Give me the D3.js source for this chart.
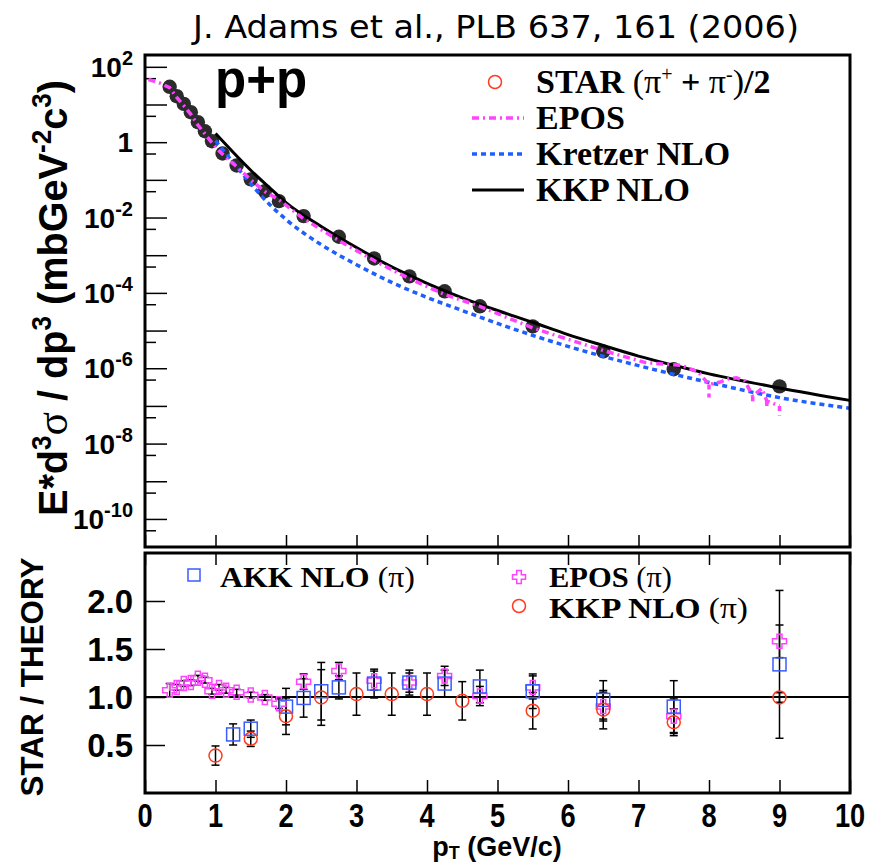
<!DOCTYPE html>
<html>
<head>
<meta charset="utf-8">
<script src="https://cdnjs.cloudflare.com/ajax/libs/d3/7.8.5/d3.min.js"></script>
<style>
  body { margin: 0; background: #fff; }
  svg { display: block; }
  .sans { font-family: "Liberation Sans", Arial, Helvetica, sans-serif; font-weight: bold; }
  .serif { font-family: "Liberation Serif", "Times New Roman", serif; font-weight: bold; }
</style>
</head>
<body>
<div id="chart"></div>
<script>
// STAR (pi+ + pi-)/2 invariant yield, p+p
const ptStar = [0.35, 0.45, 0.55, 0.65, 0.75, 0.85, 0.95, 1.1, 1.3, 1.5, 1.7, 1.9, 2.25, 2.75, 3.25, 3.75, 4.25, 4.75, 5.5, 6.5, 7.5, 9.0];
const yieldStar = [29.5, 16.6, 10.4, 6.25, 3.39, 1.95, 1.06, 0.50, 0.241, 0.103, 0.050, 0.0272, 0.0109, 3.09e-3, 8.2e-4, 2.75e-4, 1.1e-4, 4.4e-5, 1.29e-5, 2.8e-6, 9.4e-7, 3.3e-7];

// theory curves
const ptKKP = [1.0, 1.25, 1.5, 1.75, 2.0, 2.5, 3.0, 3.5, 4.0, 4.5, 5.0, 5.5, 6.0, 6.5, 7.0, 7.5, 8.0, 9.0, 10.0];
const yieldKKP = [1.7, 0.54, 0.18, 0.066, 0.025, 5.8e-3, 1.6e-3, 4.9e-4, 1.8e-4, 7.4e-5, 3.4e-5, 1.66e-5, 7.8e-6, 4.0e-6, 2.1e-6, 1.2e-6, 7.1e-7, 3.0e-7, 1.4e-7];

const ptKretzer = [1.0, 1.25, 1.5, 1.75, 2.0, 2.5, 3.0, 3.5, 4.0, 4.5, 5.0, 6.0, 7.0, 8.0, 9.0, 10.0];
const yieldKretzer = [1.1, 0.29, 0.079, 0.024, 8.9e-3, 1.9e-3, 5.6e-4, 1.9e-4, 7.6e-5, 3.4e-5, 1.55e-5, 3.8e-6, 1.17e-6, 4.2e-7, 1.66e-7, 8.7e-8];

const ptEpos = [0.05, 0.2, 0.35, 0.45, 0.55, 0.65, 0.75, 0.85, 0.95, 1.05, 1.15, 1.3, 1.5, 1.7, 1.9, 2.25, 2.75, 3.25, 3.75, 4.25, 4.75, 5.5, 6.5, 7.1, 7.6, 7.85, 8.0, 8.16, 8.27, 8.39, 8.51, 8.62, 8.75, 8.82, 9.0];
const yieldEpos = [46, 38, 27.9, 15.5, 9.3, 5.5, 2.85, 1.66, 0.97, 0.59, 0.39, 0.224, 0.10, 0.049, 0.0295, 9.3e-3, 2.45e-3, 7.2e-4, 2.4e-4, 9.1e-5, 4.4e-5, 1.17e-5, 2.95e-6, 1.41e-6, 1.2e-6, 7.9e-7, 3.7e-7, 4.3e-7, 5.2e-7, 5.6e-7, 4.6e-7, 1.8e-7, 2.9e-7, 1.35e-7, 1.0e-7];
// EPOS statistical error bars (lower end) at high pT
const ptEposBar = [8.0, 8.62, 8.82, 9.0];
const lowEposBar = [1.66e-7, 1.1e-7, 9.0e-8, 5.6e-8];

// STAR / THEORY ratios
const ptAKK = [1.25, 1.5, 2.0, 2.25, 2.5, 2.75, 3.25, 3.75, 4.25, 4.75, 5.5, 6.5, 7.5, 9.0];
const ratioAKK = [0.61, 0.67, 0.90, 0.99, 1.06, 1.10, 1.14, 1.15, 1.14, 1.11, 1.06, 0.97, 0.90, 1.34];
const errAKK = [0.11, 0.09, 0.19, 0.20, 0.30, 0.12, 0.15, 0.13, 0.14, 0.17, 0.18, 0.20, 0.27, 0.77];

const ptEposR = [0.35, 0.45, 0.55, 0.65, 0.75, 0.85, 0.95, 1.05, 1.15, 1.3, 1.5, 1.7, 1.9, 2.25, 2.75, 3.25, 3.75, 4.25, 4.75, 5.5, 6.5, 7.5, 9.0];
const ratioEpos = [1.07, 1.10, 1.14, 1.15, 1.195, 1.175, 1.06, 1.10, 1.07, 1.05, 1.02, 0.995, 0.93, 1.16, 1.27, 1.17, 1.15, 1.22, 1.01, 1.10, 0.90, 0.80, 1.58];
const errEposR = [0.07, 0.03, 0.03, 0.03, 0.03, 0.03, 0.03, 0.03, 0.03, 0.03, 0.03, 0.03, 0.05, 0.08, 0.09, 0.10, 0.10, 0.10, 0.10, 0.12, 0.15, 0.18, 0.17];

const ptKKPR = [1.0, 1.5, 2.0, 2.5, 3.0, 3.5, 4.0, 4.5, 5.5, 6.5, 7.5, 9.0];
const ratioKKP = [0.39, 0.565, 0.80, 0.995, 1.03, 1.03, 1.03, 0.96, 0.857, 0.868, 0.737, 0.995];
const errKKP = [0.10, 0.08, 0.19, 0.29, 0.22, 0.22, 0.22, 0.20, 0.19, 0.20, 0.14, 0.05];

// ticks
const xTicks = d3.range(0, 11);
const yTopMajor = d3.range(-10, 3).map(k => Math.pow(10, k));
const yTopMinor = d3.range(-11, 2).map(k => 5 * Math.pow(10, k));
const yTopLabels = [2, 0, -2, -4, -6, -8, -10];
const yLowTicks = [0.5, 1.0, 1.5, 2.0];

// Configuration
const config = {
    width: 875,
    height: 863,
    left: 145,
    right: 850,
    top: { y0: 55, y1: 547 },
    low: { y0: 553, y1: 793 },
    colors: {
        star: "#2b2b2b",
        epos: "#ff44ff",
        kretzer: "#1f5fff",
        kkp: "#000000",
        red: "#ff3b1f",
        blue: "#3a5cff"
    }
};

const svg = d3.select("#chart").append("svg")
    .attr("width", config.width)
    .attr("height", config.height);

const x = d3.scaleLinear().domain([0, 10]).range([config.left, config.right]);
const yTop = d3.scaleLog().domain([1.8e-11, 2.06e2]).range([config.top.y1, config.top.y0]);
const yLow = d3.scaleLinear().domain([0, 2.5]).range([config.low.y1, config.low.y0]);

const defs = svg.append("defs");
defs.append("clipPath").attr("id", "clipTop").append("rect")
    .attr("x", config.left).attr("y", config.top.y0)
    .attr("width", config.right - config.left).attr("height", config.top.y1 - config.top.y0);

// Title
svg.append("text")
    .attr("x", 496).attr("y", 38)
    .attr("text-anchor", "middle")
    .attr("textLength", 606)
    .attr("lengthAdjust", "spacingAndGlyphs")
    .style("font-family", "'DejaVu Sans', Verdana, sans-serif")
    .style("font-size", "32px")
    .text("J. Adams et al., PLB 637, 161 (2006)");

// ---------- top panel ----------
const gTop = svg.append("g");

// axis ticks
gTop.append("g")
    .attr("transform", `translate(${config.left},0)`)
    .call(d3.axisLeft(yTop).tickValues(yTopMajor).tickSize(-22).tickFormat(""))
    .call(g => g.select(".domain").remove())
    .call(g => g.selectAll("line").attr("stroke-width", 1.5));
gTop.append("g")
    .attr("transform", `translate(${config.left},0)`)
    .call(d3.axisLeft(yTop).tickValues(yTopMinor).tickSize(-11).tickFormat(""))
    .call(g => g.select(".domain").remove())
    .call(g => g.selectAll("line").attr("stroke-width", 1.5));
gTop.append("g")
    .attr("transform", `translate(0,${config.top.y1})`)
    .call(d3.axisBottom(x).tickValues(xTicks).tickSize(-12).tickFormat(""))
    .call(g => g.select(".domain").remove())
    .call(g => g.selectAll("line").attr("stroke-width", 1.5));

// y labels (10^n)
yTopLabels.forEach(k => {
    const t = gTop.append("text")
        .attr("class", "sans")
        .attr("x", 133)
        .attr("y", yTop(Math.pow(10, k)) + 10)
        .attr("text-anchor", "end")
        .style("font-size", "28px");
    if (k === 0) {
        t.text("1");
    } else {
        t.append("tspan").text("10");
        t.append("tspan").attr("dy", -12).style("font-size", "20px").text(String(k));
    }
});

// STAR points
const plotTop = gTop.append("g").attr("clip-path", "url(#clipTop)");
plotTop.selectAll(".star")
    .data(ptStar.map((p, i) => ({ p, v: yieldStar[i] })))
    .enter().append("circle")
    .attr("cx", d => x(d.p))
    .attr("cy", d => yTop(d.v))
    .attr("r", 7.2)
    .attr("fill", config.colors.star);

const lineTop = d3.line()
    .x(d => x(d.p))
    .y(d => yTop(d.v))
    .curve(d3.curveMonotoneX);

plotTop.append("path")
    .datum(ptKretzer.map((p, i) => ({ p, v: yieldKretzer[i] })))
    .attr("d", lineTop)
    .attr("fill", "none")
    .attr("stroke", config.colors.kretzer)
    .attr("stroke-width", 3.5)
    .attr("stroke-dasharray", "5,4");

plotTop.append("path")
    .datum(ptKKP.map((p, i) => ({ p, v: yieldKKP[i] })))
    .attr("d", lineTop)
    .attr("fill", "none")
    .attr("stroke", config.colors.kkp)
    .attr("stroke-width", 3);

plotTop.append("path")
    .datum(ptEpos.map((p, i) => ({ p, v: yieldEpos[i] })))
    .attr("d", d3.line().x(d => x(d.p)).y(d => yTop(d.v)))
    .attr("fill", "none")
    .attr("stroke", config.colors.epos)
    .attr("stroke-width", 3.5)
    .attr("stroke-dasharray", "7,4,2,4");

plotTop.selectAll(".eposbar")
    .data(ptEposBar.map((p, i) => ({ p, lo: lowEposBar[i], hi: yieldEpos[ptEpos.indexOf(p)] })))
    .enter().append("line")
    .attr("x1", d => x(d.p)).attr("x2", d => x(d.p))
    .attr("y1", d => yTop(d.hi)).attr("y2", d => yTop(d.lo))
    .attr("stroke", config.colors.epos)
    .attr("stroke-width", 3.5)
    .attr("stroke-dasharray", "5,4");

// frame
gTop.append("rect")
    .attr("x", config.left).attr("y", config.top.y0)
    .attr("width", config.right - config.left).attr("height", config.top.y1 - config.top.y0)
    .attr("fill", "none").attr("stroke", "#000").attr("stroke-width", 3);

// p+p
gTop.append("text")
    .attr("class", "sans")
    .attr("x", 215).attr("y", 97)
    .style("font-size", "51px")
    .text("p+p");

// legend (top)
const legTop = gTop.append("g").attr("class", "serif").style("font-size", "34px");
const legRows = [93, 129, 165, 201];
legTop.append("circle").attr("cx", 495).attr("cy", legRows[0] - 11).attr("r", 6.5)
    .attr("fill", "none").attr("stroke", config.colors.red).attr("stroke-width", 1.5);
legTop.append("line").attr("x1", 472).attr("x2", 524).attr("y1", legRows[1] - 11).attr("y2", legRows[1] - 11)
    .attr("stroke", config.colors.epos).attr("stroke-width", 3.5).attr("stroke-dasharray", "7,4,2,4");
legTop.append("line").attr("x1", 472).attr("x2", 524).attr("y1", legRows[2] - 11).attr("y2", legRows[2] - 11)
    .attr("stroke", config.colors.kretzer).attr("stroke-width", 3.5).attr("stroke-dasharray", "5,4");
legTop.append("line").attr("x1", 472).attr("x2", 524).attr("y1", legRows[3] - 11).attr("y2", legRows[3] - 11)
    .attr("stroke", "#000").attr("stroke-width", 3);

const starLabel = legTop.append("text").attr("x", 536).attr("y", legRows[0]);
starLabel.append("tspan").text("STAR ");
starLabel.append("tspan").style("font-weight", "normal").text("(π");
starLabel.append("tspan").attr("dy", -12).style("font-size", "20px").style("font-weight", "normal").text("+");
starLabel.append("tspan").attr("dy", 12).text(" + ");
starLabel.append("tspan").style("font-weight", "normal").text("π");
starLabel.append("tspan").attr("dy", -12).style("font-size", "20px").style("font-weight", "normal").text("-");
starLabel.append("tspan").attr("dy", 12).style("font-weight", "normal").text(")");
starLabel.append("tspan").text("/2");
legTop.append("text").attr("x", 536).attr("y", legRows[1]).text("EPOS");
legTop.append("text").attr("x", 536).attr("y", legRows[2]).text("Kretzer NLO");
legTop.append("text").attr("x", 536).attr("y", legRows[3]).text("KKP NLO");

// y title (top)
const yTitle = svg.append("text")
    .attr("class", "sans")
    .attr("transform", "translate(67,298) rotate(-90)")
    .attr("text-anchor", "middle")
    .attr("textLength", 436)
    .attr("lengthAdjust", "spacingAndGlyphs")
    .style("font-size", "41px");
yTitle.append("tspan").text("E*d");
yTitle.append("tspan").attr("dy", -16).style("font-size", "27px").text("3");
yTitle.append("tspan").attr("dy", 16).style("font-family", "'Liberation Serif', serif").style("font-weight", "normal").style("font-size", "45px").text("σ");
yTitle.append("tspan").text(" / dp");
yTitle.append("tspan").attr("dy", -16).style("font-size", "27px").text("3");
yTitle.append("tspan").attr("dy", 16).text(" (mbGeV");
yTitle.append("tspan").attr("dy", -16).style("font-size", "27px").text("-2");
yTitle.append("tspan").attr("dy", 16).text("c");
yTitle.append("tspan").attr("dy", -16).style("font-size", "27px").text("3");
yTitle.append("tspan").attr("dy", 16).text(")");

// ---------- lower panel ----------
const gLow = svg.append("g");

gLow.append("g")
    .attr("transform", `translate(0,${config.low.y1})`)
    .call(d3.axisBottom(x).tickValues(xTicks).tickSize(-13).tickFormat(""))
    .call(g => g.select(".domain").remove())
    .call(g => g.selectAll("line").attr("stroke-width", 1.5));
gLow.append("g")
    .attr("transform", `translate(0,${config.low.y0})`)
    .call(d3.axisTop(x).tickValues(xTicks).tickSize(-12).tickFormat(""))
    .call(g => g.select(".domain").remove())
    .call(g => g.selectAll("line").attr("stroke-width", 1.5));
gLow.append("g")
    .attr("transform", `translate(${config.left},0)`)
    .call(d3.axisLeft(yLow).tickValues(yLowTicks).tickSize(-20).tickFormat(""))
    .call(g => g.select(".domain").remove())
    .call(g => g.selectAll("line").attr("stroke-width", 1.5));

gLow.selectAll(".ylab")
    .data(yLowTicks)
    .enter().append("text")
    .attr("class", "sans")
    .attr("x", 133)
    .attr("y", d => yLow(d) + 12)
    .attr("text-anchor", "end")
    .style("font-size", "33px")
    .text(d => d.toFixed(1));

gLow.selectAll(".xlab")
    .data(xTicks)
    .enter().append("text")
    .attr("class", "sans")
    .attr("transform", d => `translate(${x(d)},827) scale(0.8,1)`)
    .attr("text-anchor", "middle")
    .style("font-size", "34px")
    .text(d => d);

// unity line
gLow.append("line")
    .attr("x1", config.left).attr("x2", config.right)
    .attr("y1", yLow(1)).attr("y2", yLow(1))
    .attr("stroke", "#000").attr("stroke-width", 2);

function errorBars(g, pts, vals, errs) {
    const data = pts.map((p, i) => ({ p, v: vals[i], e: errs[i] }));
    const eb = g.append("g").attr("stroke", "#000").attr("stroke-width", 1.5);
    eb.selectAll(".bar").data(data).enter().append("line")
        .attr("x1", d => x(d.p)).attr("x2", d => x(d.p))
        .attr("y1", d => yLow(d.v + d.e)).attr("y2", d => yLow(d.v - d.e));
    eb.selectAll(".capHi").data(data).enter().append("line")
        .attr("x1", d => x(d.p) - 4).attr("x2", d => x(d.p) + 4)
        .attr("y1", d => yLow(d.v + d.e)).attr("y2", d => yLow(d.v + d.e));
    eb.selectAll(".capLo").data(data).enter().append("line")
        .attr("x1", d => x(d.p) - 4).attr("x2", d => x(d.p) + 4)
        .attr("y1", d => yLow(d.v - d.e)).attr("y2", d => yLow(d.v - d.e));
}

errorBars(gLow, ptKKPR, ratioKKP, errKKP);
errorBars(gLow, ptAKK, ratioAKK, errAKK);
errorBars(gLow, ptEposR, ratioEpos, errEposR);

const crossPath = (h, t) => `M${-t},${-h}H${t}V${-t}H${h}V${t}H${t}V${h}H${-t}V${t}H${-h}V${-t}H${-t}Z`;

gLow.selectAll(".eposR")
    .data(ptEposR.map((p, i) => ({ p, v: ratioEpos[i] })))
    .enter().append("path")
    .attr("transform", d => `translate(${x(d.p)},${yLow(d.v)})`)
    .attr("d", crossPath(7, 2.5))
    .attr("fill", "none").attr("stroke", config.colors.epos).attr("stroke-width", 1.5);

gLow.selectAll(".akk")
    .data(ptAKK.map((p, i) => ({ p, v: ratioAKK[i] })))
    .enter().append("rect")
    .attr("x", d => x(d.p) - 6.5).attr("y", d => yLow(d.v) - 6.5)
    .attr("width", 13).attr("height", 13)
    .attr("fill", "none").attr("stroke", config.colors.blue).attr("stroke-width", 1.5);

gLow.selectAll(".kkpR")
    .data(ptKKPR.map((p, i) => ({ p, v: ratioKKP[i] })))
    .enter().append("circle")
    .attr("cx", d => x(d.p)).attr("cy", d => yLow(d.v)).attr("r", 6.5)
    .attr("fill", "none").attr("stroke", config.colors.red).attr("stroke-width", 1.5);

gLow.append("rect")
    .attr("x", config.left).attr("y", config.low.y0)
    .attr("width", config.right - config.left).attr("height", config.low.y1 - config.low.y0)
    .attr("fill", "none").attr("stroke", "#000").attr("stroke-width", 3);

// legend (lower)
const legLow = gLow.append("g").attr("class", "serif").style("font-size", "30px");
legLow.append("rect").attr("x", 188).attr("y", 569).attr("width", 12).attr("height", 12)
    .attr("fill", "none").attr("stroke", config.colors.blue).attr("stroke-width", 1.5);
legLow.append("path").attr("transform", "translate(519,577)").attr("d", crossPath(6.5, 2.3))
    .attr("fill", "none").attr("stroke", config.colors.epos).attr("stroke-width", 1.5);
legLow.append("circle").attr("cx", 519).attr("cy", 606).attr("r", 6.5)
    .attr("fill", "none").attr("stroke", config.colors.red).attr("stroke-width", 1.5);

function piLabel(xp, yp, name, len) {
    const t = legLow.append("text").attr("x", xp).attr("y", yp)
        .attr("textLength", len).attr("lengthAdjust", "spacingAndGlyphs");
    t.append("tspan").text(name + " ");
    t.append("tspan").style("font-weight", "normal").text("(π)");
}
piLabel(220, 587, "AKK NLO", 195);
piLabel(549, 587, "EPOS", 123);
piLabel(549, 618, "KKP NLO", 199);

// y title (lower)
svg.append("text")
    .attr("class", "sans")
    .attr("transform", "translate(43,677) rotate(-90)")
    .attr("text-anchor", "middle")
    .attr("textLength", 239)
    .attr("lengthAdjust", "spacingAndGlyphs")
    .style("font-size", "31px")
    .text("STAR / THEORY");

// x title
const xTitle = svg.append("text")
    .attr("class", "sans")
    .attr("x", 497).attr("y", 856)
    .attr("text-anchor", "middle")
    .style("font-size", "27px");
xTitle.append("tspan").text("p");
xTitle.append("tspan").attr("dy", 3).style("font-size", "18px").text("T");
xTitle.append("tspan").attr("dy", -3).text(" (GeV/c)");
</script>
</body>
</html>
